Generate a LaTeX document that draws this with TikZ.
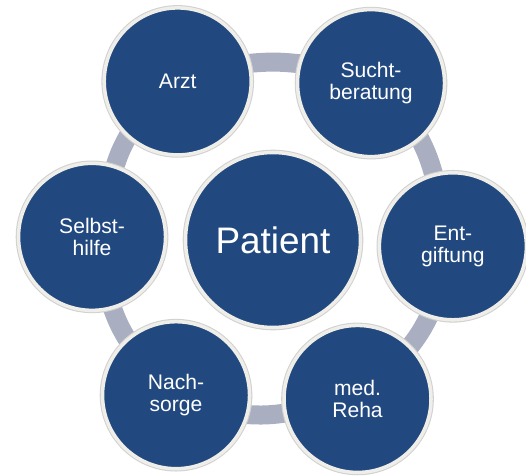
\documentclass[tikz,border=0pt]{standalone}
\usepackage{fontspec}
\setmainfont{Liberation Sans}
\usetikzlibrary{backgrounds}

\definecolor{circleblue}{RGB}{33,73,127}
\definecolor{circlerim}{RGB}{240,238,232}
\definecolor{ringgray}{RGB}{169,175,193}

\def\outerSize{2.94}
\def\centerSize{3.5}
\def\ringWidth{0.38}
\def\ringTouch{107}

\tikzset{
    station/.style = {
        circle, fill = circleblue, draw = circlerim, line width = 2pt,
        preaction = {draw = black!18, line width = 3.2pt},
        text = white, align = center, inner sep = 0pt,
        minimum size = \outerSize cm,
        font = \fontsize{12}{12.5}\selectfont
    },
    hub/.style = {
        station, minimum size = \centerSize cm,
        font = \fontsize{21}{24}\selectfont
    },
    ringlink/.style = {
        draw = ringgray, line width = \ringWidth cm, bend left = 6,
        shorten <= -3pt, shorten >= -3pt
    }
}

\begin{document}
\begin{tikzpicture}
            \useasboundingbox (-5.46,-4.70) rectangle (5.06,4.80);
            \node [hub] (patient) at (0,0) {Patient};
            %% stations round the patient
            \foreach \ang/\dist/\name/\txt in {
                121/3.70/arzt/Arzt,
                58/3.70/sucht/Sucht-\\beratung,
                -2/3.60/entgiftung/Ent-\\giftung,
                -62/3.60/reha/med.\\Reha,
                -122/3.66/nachsorge/Nach-\\sorge,
                179/3.62/selbsthilfe/Selbst-\\hilfe%
            } {
                \node [station] (\name) at (\ang:\dist) {\txt};
            }
            %% ring pieces behind the stations
            \begin{pgfonlayer}{background}
                \foreach \from/\fa/\to/\ta [
                    evaluate = \fa as \fout using int(\fa-\ringTouch),
                    evaluate = \ta as \tin using int(\ta+\ringTouch)
                ] in {
                    arzt/121/sucht/58, sucht/58/entgiftung/-2,
                    entgiftung/-2/reha/-62, reha/-62/nachsorge/-122,
                    nachsorge/-122/selbsthilfe/179, selbsthilfe/179/arzt/121%
                } {
                    \draw [ringlink] (\from.\fout) to (\to.\tin);
                }
            \end{pgfonlayer}
        \end{tikzpicture}
\end{document}
